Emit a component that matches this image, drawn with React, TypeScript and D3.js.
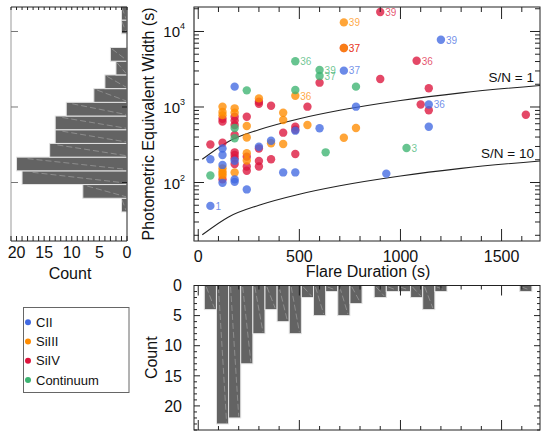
import React from 'react';
import * as d3 from 'd3';

// ---------- data ----------
const ciiPoints: [number, number][] = [
  [60, 203], [60, 49], [120, 282], [120, 231], [120, 171], [120, 99], [180, 1860], [180, 194],
  [180, 110], [180, 102], [240, 81], [300, 298], [360, 358], [420, 136], [480, 486], [480, 136],
  [600, 522], [720, 3030], [780, 1010], [930, 131], [1140, 1080], [1140, 548], [1200, 7780],
];
const siiiiPoints: [number, number][] = [
  [120, 1010], [120, 860], [120, 780], [120, 154], [120, 131], [120, 122], [120, 140], [180, 960],
  [180, 840], [180, 136], [240, 560], [240, 394], [240, 244], [240, 196], [300, 1300], [360, 331],
  [420, 840], [420, 673], [420, 324], [480, 1410], [540, 578], [720, 13200], [720, 6040], [720, 392],
  [780, 527],
];
const sivPoints: [number, number][] = [
  [60, 319], [120, 700], [120, 640], [120, 337], [120, 110], [180, 744], [180, 660], [180, 578],
  [180, 426], [180, 251], [180, 231], [180, 209], [180, 176], [240, 744], [240, 220], [240, 163],
  [240, 143], [300, 1175], [300, 1100], [300, 282], [300, 193], [300, 163], [360, 1040], [360, 203],
  [420, 457], [480, 548], [480, 500], [480, 239], [540, 1010], [600, 2100], [720, 6040], [900, 18100],
  [900, 2350], [1080, 4100], [1100, 1080], [1140, 1770], [1140, 904], [1620, 790],
];
const contPoints: [number, number][] = [
  [60, 124], [180, 527], [180, 385], [240, 1660], [480, 4030], [480, 1680], [600, 3090], [600, 2570],
  [630, 251], [780, 1860], [1030, 286],
];
// [series, duration, EW, text]
const pointLabels: [string, number, number, string][] = [
  ['CII', 60, 49, '1'], ['CII', 720, 3030, '37'], ['CII', 1200, 7780, '39'], ['CII', 1140, 1080, '36'],
  ['SiIII', 480, 1410, '36'], ['SiIII', 720, 13200, '39'], ['SiIII', 720, 6040, '37'],
  ['SiIV', 900, 18100, '39'], ['SiIV', 1080, 4100, '36'], ['SiIV', 720, 6040, '37'],
  ['Continuum', 480, 4030, '36'], ['Continuum', 600, 3090, '39'], ['Continuum', 600, 2570, '37'],
  ['Continuum', 1030, 286, '3'],
];
const legendNames = ['CII', 'SiIII', 'SiIV', 'Continuum'];

// S/N curves [duration, EW]
const sn1Curve: [number, number][] = [
  [20, 203], [150, 350], [300, 500], [500, 700], [700, 905], [1000, 1220], [1300, 1540], [1700, 1940],
];
const sn10Curve: [number, number][] = [
  [20, 20.3], [150, 35], [300, 50], [500, 70], [700, 90.5], [1000, 122], [1300, 154], [1700, 194],
];

// Duration histogram: bins of 60 s starting at 30 s
const durationBinEdges = [30, 90, 150, 210, 270, 330, 390, 450, 510, 570, 630, 690, 750, 810, 870, 930,
  990, 1050, 1110, 1170, 1230, 1290, 1350, 1410, 1470, 1530, 1590, 1650];
const durationCounts = [4, 23, 22, 13, 8, 4, 6, 8, 2, 5, 1, 5, 3, 0, 2, 1, 1, 2, 4, 1, 0, 0, 0, 0, 0, 0, 1];
// EW histogram: log10 bin edges
const ewLogEdges = [1.61, 1.7915, 1.973, 2.1545, 2.336, 2.5175, 2.699, 2.8805, 3.062, 3.2435, 3.425,
  3.6065, 3.788, 3.9695, 4.151, 4.3325];
const ewCounts = [1, 8, 19, 20, 14, 13, 13, 11, 6, 4, 2, 3, 0, 1, 1];

const xTickLabels = [0, 500, 1000, 1500];
const yTickDecades = [100, 1000, 10000];
const leftCountLabels = [20, 15, 10, 5, 0];
const bottomCountLabels = [0, 5, 10, 15, 20];

const colors: Record<string, string> = {
  CII: '#4169e1',
  SiIII: '#ff8c00',
  SiIV: '#dc143c',
  Continuum: '#3cb371',
};

const FONT = "'Liberation Sans', Arial, Helvetica, sans-serif";

export default function App() {
  const W = 541, H = 432;
  // main scatter
  const L = 194, R = 540, T = 7, B = 241;
  const x = d3.scaleLinear().domain([-21, 1690]).range([L, R]);
  const y = d3.scaleLog().domain([16.8, 21100]).range([B, T]);
  // left histogram
  const HL = 11, HR = 127;
  const c = d3.scaleLinear().domain([21, 0]).range([HL, HR]);
  // bottom histogram
  const BT = 285.5, BB = 430;
  const bc = d3.scaleLinear().domain([0, 24]).range([BT, BB]);

  const xTicks = d3.range(0, 1700, 100);
  const logTicks: number[] = [];
  [10, 100, 1000, 10000].forEach((d) => {
    for (let m = 1; m <= 9; m++) {
      const v = d * m;
      if (v >= 16.8 && v <= 21100) logTicks.push(v);
    }
  });
  const isMajorLog = (v: number) => Math.abs(Math.log10(v) - Math.round(Math.log10(v))) < 1e-9;

  const line = d3
    .line<[number, number]>()
    .x((d) => x(d[0]))
    .y((d) => y(d[1]))
    .curve(d3.curveMonotoneX);

  const series: [string, [number, number][]][] = [
    ['SiIV', sivPoints],
    ['SiIII', siiiiPoints],
    ['CII', ciiPoints],
    ['Continuum', contPoints],
  ];

  const axisColor = '#222';

  return (
    <svg width={W} height={H} style={{ position: 'absolute', left: 0, top: 0, background: '#fff' }} fontFamily={FONT}>
      <defs>
        <clipPath id="plotClip">
          <rect x={L} y={T} width={R - L} height={B - T} />
        </clipPath>
      </defs>
      <rect x={0} y={0} width={W} height={H} fill="#fff" />

      {/* ---------- left histogram ---------- */}
      {ewCounts.map((n, i) => {
        if (n === 0) return null;
        const y0 = y(Math.pow(10, ewLogEdges[i]));
        const y1 = y(Math.pow(10, ewLogEdges[i + 1]));
        const x0 = c(n);
        return (
          <g key={'lh' + i}>
            <rect x={x0} y={y1} width={HR - x0} height={y0 - y1} fill="#636363" stroke="#e4e4e4" strokeWidth={1} />
            <line x1={x0 + (HR - x0) * 0.1} y1={y1 + 1.5} x2={HR - 1} y2={y0 - 1.5} stroke="#a8a8a8" strokeWidth={0.6} strokeDasharray="6,3" />
          </g>
        );
      })}
      {/* frame */}
      <line x1={HL} y1={T} x2={HL} y2={B} stroke="#999" />
      <line x1={HR} y1={T} x2={HR} y2={B} stroke={axisColor} />
      <line x1={HL} y1={T} x2={HR} y2={T} stroke={axisColor} />
      <line x1={HL} y1={B} x2={HR} y2={B} stroke={axisColor} />
      {d3.range(0, 22, 1).map((v) => (
        <g key={'lct' + v}>
          <line x1={c(v)} y1={B} x2={c(v)} y2={B - 5} stroke={axisColor} />
          <line x1={c(v)} y1={T} x2={c(v)} y2={T + 3} stroke={axisColor} />
        </g>
      ))}
      {yTickDecades.map((v) => (
        <g key={'lyt' + v}>
          <line x1={HL} y1={y(v)} x2={HL + 7} y2={y(v)} stroke="#777" />
          <line x1={HR} y1={y(v)} x2={HR - 5} y2={y(v)} stroke={axisColor} />
        </g>
      ))}
      {leftCountLabels.map((v) => (
        <text key={'lcl' + v} x={c(v)} y={257.5} fontSize={16} textAnchor="middle" fill="#111">
          {v}
        </text>
      ))}
      <text x={(HL + HR) / 2 + 1} y={279} fontSize={16} textAnchor="middle" fill="#111">
        Count
      </text>

      {/* ---------- scatter ---------- */}
      <g clipPath="url(#plotClip)">
        <path d={line(sn1Curve) || ''} fill="none" stroke="#222" strokeWidth={1.1} />
        <path d={line(sn10Curve) || ''} fill="none" stroke="#222" strokeWidth={1.1} />
        {series.map(([name, pts]) =>
          pts.map((p, i) => (
            <circle key={name + i} cx={x(p[0])} cy={y(p[1])} r={4.2} fill={colors[name]} fillOpacity={0.78} />
          ))
        )}
      </g>
      {pointLabels.map(([name, t, v, txt], i) => (
        <text
          key={'pl' + i}
          x={x(t) + 5}
          y={y(v) + 3.8}
          fontSize={10}
          fill={colors[name]}
          fillOpacity={0.75}
        >
          {txt}
        </text>
      ))}
      <text x={534} y={82} fontSize={13.5} textAnchor="end" fill="#111">S/N = 1</text>
      <text x={534} y={158} fontSize={13.5} textAnchor="end" fill="#111">S/N = 10</text>

      {/* frame */}
      <rect x={L} y={T} width={R - L} height={B - T} fill="none" stroke={axisColor} />
      <line x1={L} y1={T} x2={L} y2={B} stroke="#777" />
      {xTicks.map((v) => {
        const len = v % 500 === 0 ? 12 : 5;
        return (
          <g key={'xt' + v}>
            <line x1={x(v)} y1={B} x2={x(v)} y2={B - len} stroke={axisColor} />
            <line x1={x(v)} y1={T} x2={x(v)} y2={T + len} stroke={axisColor} />
          </g>
        );
      })}
      {logTicks.map((v) => {
        const len = isMajorLog(v) ? 10 : 5;
        return (
          <g key={'yt' + v}>
            <line x1={L} y1={y(v)} x2={L + len} y2={y(v)} stroke={axisColor} />
            <line x1={R} y1={y(v)} x2={R - len} y2={y(v)} stroke={axisColor} />
          </g>
        );
      })}
      {xTickLabels.map((v) => (
        <text key={'xl' + v} x={x(v)} y={261.5} fontSize={16} textAnchor="middle" fill="#111">
          {v}
        </text>
      ))}
      {yTickDecades.map((v) => (
        <text key={'yl' + v} x={185} y={y(v) + 6} fontSize={15} textAnchor="end" fill="#111">
          10
          <tspan fontSize={9} dy={-8}>
            {Math.round(Math.log10(v))}
          </tspan>
        </text>
      ))}
      <text x={(L + R) / 2 + 1} y={277} fontSize={16} textAnchor="middle" fill="#111">
        Flare Duration (s)
      </text>
      <text
        transform={`translate(153.5,${(T + B) / 2}) rotate(-90)`}
        fontSize={16}
        textAnchor="middle"
        fill="#111"
      >
        Photometric Equivalent Width (s)
      </text>

      {/* ---------- bottom histogram ---------- */}
      {durationCounts.map((n, i) => {
        if (n === 0) return null;
        const x0 = x(durationBinEdges[i]);
        const x1 = x(durationBinEdges[i + 1]);
        const yb = bc(n);
        return (
          <g key={'bh' + i}>
            <rect x={x0} y={BT} width={x1 - x0} height={yb - BT} fill="#636363" stroke="#e4e4e4" strokeWidth={1} />
            <line x1={x0 + 2} y1={BT + 1.5} x2={x1 - 2} y2={yb - 1.5} stroke="#a8a8a8" strokeWidth={0.6} strokeDasharray="6,3" />
          </g>
        );
      })}
      <rect x={L} y={BT} width={R - L} height={BB - BT} fill="none" stroke={axisColor} />
      {xTicks.map((v) => {
        const len = v % 500 === 0 ? 10 : 4;
        return (
          <g key={'bxt' + v}>
            <line x1={x(v)} y1={BB} x2={x(v)} y2={BB - len} stroke={axisColor} />
            <line x1={x(v)} y1={BT} x2={x(v)} y2={BT + len} stroke={axisColor} />
          </g>
        );
      })}
      {d3.range(0, 25, 1).map((v) => {
        const len = v % 5 === 0 ? 6 : 3;
        return (
          <g key={'byt' + v}>
            <line x1={L} y1={bc(v)} x2={L + len} y2={bc(v)} stroke={axisColor} />
            <line x1={R} y1={bc(v)} x2={R - len} y2={bc(v)} stroke={axisColor} />
          </g>
        );
      })}
      {bottomCountLabels.map((v) => (
        <text key={'bcl' + v} x={182} y={bc(v) + 5.7} fontSize={16} textAnchor="end" fill="#111">
          {v}
        </text>
      ))}
      <text
        transform={`translate(156.5,${(BT + BB) / 2}) rotate(-90)`}
        fontSize={16}
        textAnchor="middle"
        fill="#111"
      >
        Count
      </text>

      {/* ---------- legend ---------- */}
      <rect x={23.5} y={307.5} width={105.5} height={85} fill="#fff" stroke="#666" />
      {legendNames.map((name, i) => {
        const cy = 322.3 + i * 19.2;
        return (
          <g key={'lg' + name}>
            <circle cx={28} cy={cy} r={3} fill={colors[name]} />
            <text x={36} y={cy + 4.6} fontSize={13} fill="#111">
              {name}
            </text>
          </g>
        );
      })}
    </svg>
  );
}
